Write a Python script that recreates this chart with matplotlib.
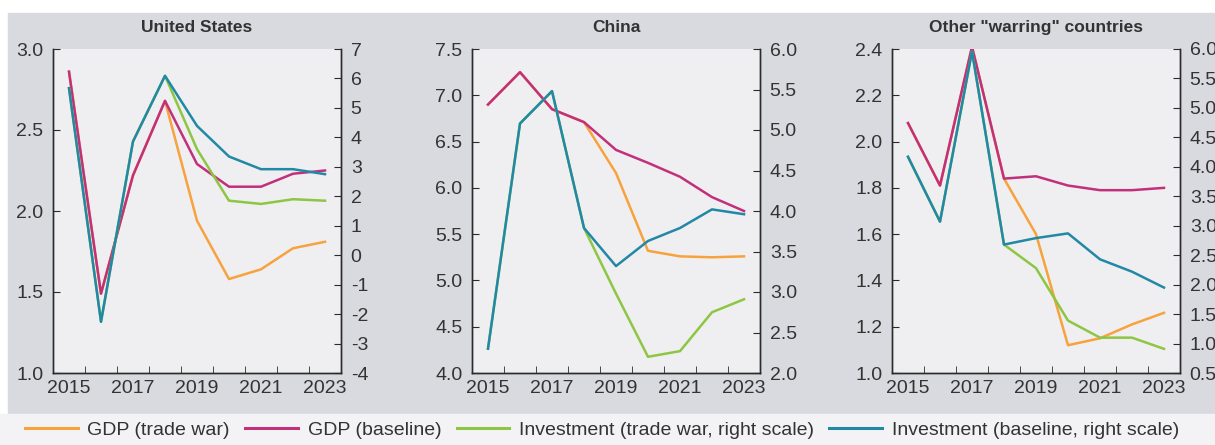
import matplotlib.pyplot as plt
import numpy as np
from matplotlib.patches import Rectangle

plt.rcParams["font.family"] = ["Liberation Sans", "DejaVu Sans"]
plt.rcParams["axes.unicode_minus"] = False

years = [2015, 2016, 2017, 2018, 2019, 2020, 2021, 2022, 2023]

# United States
us_gdp_war = [2.86, 1.49, 2.22, 2.68, 1.94, 1.58, 1.64, 1.77, 1.81]
us_gdp_base = [2.86, 1.49, 2.22, 2.68, 2.29, 2.15, 2.15, 2.23, 2.25]
us_inv_war = [5.67, -2.26, 3.86, 6.09, 3.60, 1.85, 1.74, 1.90, 1.85]
us_inv_base = [5.67, -2.26, 3.86, 6.09, 4.39, 3.35, 2.92, 2.92, 2.75]

# China
cn_gdp_war = [6.90, 7.25, 6.85, 6.71, 6.16, 5.32, 5.26, 5.25, 5.26]
cn_gdp_base = [6.90, 7.25, 6.85, 6.71, 6.41, 6.27, 6.12, 5.90, 5.75]
cn_inv_war = [2.30, 5.08, 5.48, 3.79, 2.98, 2.20, 2.27, 2.75, 2.91]
cn_inv_base = [2.30, 5.08, 5.48, 3.79, 3.32, 3.63, 3.79, 4.02, 3.96]

# Other "warring" countries
ot_gdp_war = [2.08, 1.81, 2.41, 1.84, 1.60, 1.12, 1.15, 1.21, 1.26]
ot_gdp_base = [2.08, 1.81, 2.41, 1.84, 1.85, 1.81, 1.79, 1.79, 1.80]
ot_inv_war = [4.17, 3.07, 5.96, 2.68, 2.28, 1.39, 1.10, 1.10, 0.91]
ot_inv_base = [4.17, 3.07, 5.96, 2.68, 2.79, 2.87, 2.43, 2.22, 1.95]

panels = [
    ("United States", us_gdp_war, us_gdp_base, us_inv_war, us_inv_base,
     (1.0, 3.0, 0.5, "{:.1f}"), (-4, 7, 1, "{:.0f}")),
    ("China", cn_gdp_war, cn_gdp_base, cn_inv_war, cn_inv_base,
     (4.0, 7.5, 0.5, "{:.1f}"), (2.0, 6.0, 0.5, "{:.1f}")),
    ('Other "warring" countries', ot_gdp_war, ot_gdp_base, ot_inv_war, ot_inv_base,
     (1.0, 2.4, 0.2, "{:.1f}"), (0.5, 6.0, 0.5, "{:.1f}")),
]

labels = ["GDP (trade war)", "GDP (baseline)",
          "Investment (trade war, right scale)", "Investment (baseline, right scale)"]
colors = ["#F7A23C", "#C2307C", "#8DC643", "#2288A6"]

W, H = 1215, 445
fig = plt.figure(figsize=(W / 100, H / 100), dpi=100, facecolor="white")
fig.patches.append(Rectangle((8 / W, 1 - 413 / H), 1, 400 / H,
                             transform=fig.transFigure, color="#D9DAE0", zorder=-2))
fig.patches.append(Rectangle((0, 0), 1, 1 - 414 / H,
                             transform=fig.transFigure, color="#F3F3F5", zorder=-2))

lefts = [53, 472, 892]
x = np.arange(len(years))
txt = "#333333"
spine_c = "#2b2b2b"

for left, (title, gw, gb, iw, ib, lcfg, rcfg) in zip(lefts, panels):
    ax = fig.add_axes([left / W, 1 - 373 / H, 288 / W, 324 / H])
    ax.set_facecolor("#EFEFF2")
    ax2 = ax.twinx()

    ax.plot(x, gw, color=colors[0], lw=1.8, zorder=2)
    ax.plot(x, gb, color=colors[1], lw=1.8, zorder=3)
    ax2.plot(x, iw, color=colors[2], lw=1.8)
    ax2.plot(x, ib, color=colors[3], lw=1.8)

    lo, hi, step, fmt = lcfg
    lt = np.arange(lo, hi + step / 2, step)
    ax.set_ylim(lo, hi)
    ax.set_yticks(lt, [fmt.format(v) for v in lt])
    lo, hi, step, fmt = rcfg
    rt = np.arange(lo, hi + step / 2, step)
    ax2.set_ylim(lo, hi)
    ax2.set_yticks(rt, [fmt.format(v) for v in rt])

    ax.set_xlim(-0.5, len(years) - 0.5)
    ax.set_xticks(x[::2], [str(y) for y in years[::2]])
    ax.set_xticks(np.arange(0.5, len(years) - 1), minor=True)
    ax.tick_params(axis="x", which="major", length=0, pad=5, labelsize=14, labelcolor=txt)
    ax.tick_params(axis="x", which="minor", length=5, direction="in", color=spine_c)
    ax.tick_params(axis="y", length=5, direction="in", pad=7, labelsize=14,
                   labelcolor=txt, color=spine_c)
    ax2.tick_params(axis="y", length=5, direction="in", pad=7, labelsize=14,
                    labelcolor=txt, color=spine_c)

    for a in (ax, ax2):
        a.spines["top"].set_visible(False)
        for s in ("left", "right", "bottom"):
            a.spines[s].set_color(spine_c)
            a.spines[s].set_linewidth(1.0)

    ax.set_title(title, fontsize=12.5, fontweight="bold", color=txt, pad=12)

handles = [plt.Line2D([], [], color=c, lw=2.2) for c in colors]
fig.legend(handles, labels, ncol=4, loc="center", bbox_to_anchor=(602 / W, 1 - 430 / H),
           frameon=False, fontsize=14, handlelength=2.7, handletextpad=0.5,
           columnspacing=0.8, labelcolor=txt, borderpad=0, borderaxespad=0)

fig.savefig("out.png", dpi=100, facecolor=fig.get_facecolor())
